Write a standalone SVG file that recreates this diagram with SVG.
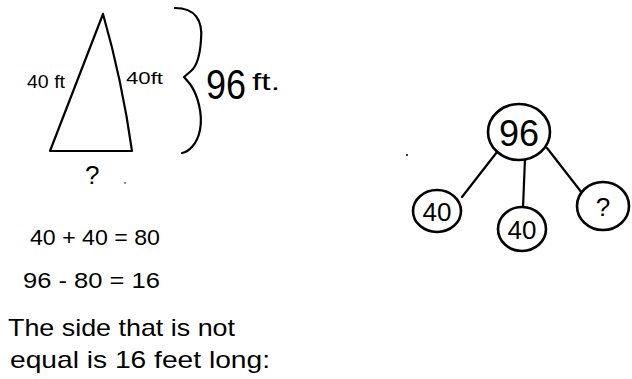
<svg xmlns="http://www.w3.org/2000/svg" width="632" height="379" viewBox="0 0 632 379">
<style>
.s{fill:none;stroke:#000;stroke-width:2.2;stroke-linecap:round;stroke-linejoin:round}
.n{fill:#fff;stroke:#000;stroke-width:2.6}
.t{font-family:"Liberation Sans",Arial,sans-serif;fill:#000}
</style>
<rect width="632" height="379" fill="#fff"/>
<g id="triangle">
<path class="s" d="M103,14 L50,151 L132,151 Q122,80 103,14"/>
<text class="t" x="27" y="88" font-size="18" textLength="38" lengthAdjust="spacingAndGlyphs">40 ft</text>
<text class="t" x="126" y="84" font-size="16" textLength="37" lengthAdjust="spacingAndGlyphs">40ft</text>
<text class="t" x="85" y="184" font-size="26">?</text>
<circle cx="125" cy="183" r="0.8" fill="#000"/>
</g>
<g id="brace">
<path class="s" d="M175,8 C195,8 203,20 201,40 C200,55 197,66 191,71 L184,77 L190,84 C198,95 203,115 200,130 C197,145 188,152 182,153"/>
<text class="t" x="206" y="99" font-size="42" textLength="40" lengthAdjust="spacingAndGlyphs">96</text>
<text class="t" x="252" y="90" font-size="24" textLength="28" lengthAdjust="spacingAndGlyphs">ft.</text>
</g>
<g id="work">
<text class="t" x="30" y="245" font-size="22" textLength="130" lengthAdjust="spacingAndGlyphs">40 + 40 = 80</text>
<text class="t" x="23" y="288" font-size="22" textLength="137" lengthAdjust="spacingAndGlyphs">96 - 80 = 16</text>
<text class="t" x="8" y="336" font-size="24" textLength="227" lengthAdjust="spacingAndGlyphs">The side that is not</text>
<text class="t" x="10" y="368" font-size="24" textLength="260" lengthAdjust="spacingAndGlyphs">equal is 16 feet long:</text>
</g>
<circle cx="407" cy="155" r="1" fill="#000"/>
<g id="connectors">
<line class="s" x1="497" y1="152" x2="462" y2="197" stroke-width="2.6"/>
<line class="s" x1="525" y1="158" x2="523" y2="208" stroke-width="2.6"/>
<line class="s" x1="547" y1="148" x2="582" y2="193" stroke-width="2.6"/>
</g>
<g id="n96">
<ellipse class="n" cx="519" cy="132" rx="31" ry="28"/>
<text class="t" x="519" y="146" font-size="36" text-anchor="middle">96</text>
</g>
<g id="n40a">
<ellipse class="n" cx="437" cy="211" rx="24" ry="21"/>
<text class="t" x="437" y="221" font-size="26" text-anchor="middle">40</text>
</g>
<g id="n40b">
<ellipse class="n" cx="522" cy="229" rx="24" ry="22"/>
<text class="t" x="522" y="239" font-size="26" text-anchor="middle">40</text>
</g>
<g id="nq">
<ellipse class="n" cx="603" cy="206" rx="26" ry="24"/>
<text class="t" x="603" y="216" font-size="26" text-anchor="middle">?</text>
</g>
</svg>
